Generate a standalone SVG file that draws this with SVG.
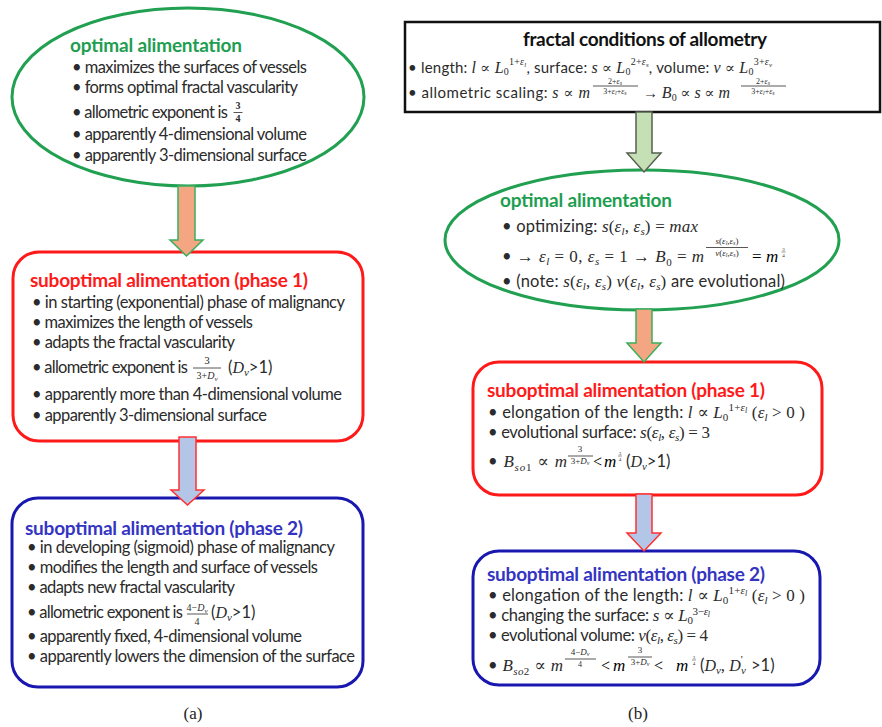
<svg xmlns="http://www.w3.org/2000/svg" width="882" height="727" viewBox="0 0 882 727">
<style>
.b{font-family:Lato,"Open Sans","Liberation Sans",sans-serif;font-size:16.5px;fill:#2b2b2b}
.b2{font-family:Lato,"Open Sans","Liberation Sans",sans-serif;font-size:15px;fill:#2b2b2b}
.tt{font-family:Lato,"Open Sans","Liberation Sans",sans-serif;font-size:19px;font-weight:bold}
.g{fill:#1e9e50}.r{fill:#ff1a1a}.bl{fill:#3434c2}.k{fill:#111}
.mi{font-family:"Liberation Serif","DejaVu Serif",serif;font-style:italic;font-size:17px}
.mr{font-family:"Liberation Serif","DejaVu Serif",serif;font-style:normal;font-size:17px}
.s{font-size:11px}.xs{font-size:8px}.f{font-family:"Liberation Serif","DejaVu Serif",serif;font-size:10px;fill:#2b2b2b}
.fi{font-style:italic}
.fl{stroke:#2b2b2b;stroke-width:0.8}
.cap{font-family:"Liberation Serif",serif;font-size:17px;fill:#222}
.ag{fill:#f4a582;stroke:#3aae5c;stroke-width:1.5}
.ab{fill:#b4c6e7;stroke:#ff3030;stroke-width:1.5}
.ak{fill:#c5e0b4;stroke:#556050;stroke-width:1.5}
</style>
<rect width="882" height="727" fill="#ffffff"/>

<g id="left-optimal">
<ellipse cx="188" cy="97" rx="176" ry="89" fill="none" stroke="#20a050" stroke-width="3"/>
<text class="tt g" x="70" y="52" textLength="172">optimal alimentation</text>
<text class="b" x="72" y="73" textLength="235">• maximizes the surfaces of vessels</text>
<text class="b" x="72" y="93" textLength="226">• forms optimal fractal vascularity</text>
<text class="b" x="72" y="118" textLength="156">• allometric exponent is</text>
<text class="f" x="238" y="109" text-anchor="middle" style="font-size:10px;font-weight:bold">3</text>
<line class="fl" x1="233.5" y1="112.5" x2="242.5" y2="112.5"/>
<text class="f" x="238" y="122" text-anchor="middle" style="font-size:10px;font-weight:bold">4</text>
<text class="b" x="72" y="140" textLength="235">• apparently 4-dimensional volume</text>
<text class="b" x="72" y="161" textLength="235">• apparently 3-dimensional surface</text>
</g>

<g id="left-phase1">
<rect x="13" y="252" width="350" height="189" rx="26" fill="none" stroke="#ff1a1a" stroke-width="3"/>
<text class="tt r" x="30" y="287" textLength="278">suboptimal alimentation (phase 1)</text>
<text class="b" x="32" y="308" textLength="313">• in starting (exponential) phase of malignancy</text>
<text class="b" x="32" y="328" textLength="221">• maximizes the length of vessels</text>
<text class="b" x="32" y="348" textLength="203">• adapts the fractal vascularity</text>
<text class="b" x="32" y="373" textLength="156">• allometric exponent is</text>
<text class="f" x="207" y="364" text-anchor="middle" style="font-size:11px">3</text>
<line class="fl" x1="193" y1="368" x2="221" y2="368"/>
<text class="f" x="207" y="379" text-anchor="middle">3+<tspan class="fi">D</tspan><tspan style="font-size:7px" dy="2" class="fi">v</tspan></text>
<text class="b" x="228" y="373">(<tspan class="mi" style="font-size:16px">D</tspan><tspan class="mi s" dy="3">v</tspan><tspan dy="-3">&gt;1)</tspan></text>
<text class="b" x="32" y="400" textLength="310">• apparently more than 4-dimensional volume</text>
<text class="b" x="32" y="421" textLength="235">• apparently 3-dimensional surface</text>
</g>

<g id="left-phase2">
<rect x="12" y="498" width="351" height="189" rx="26" fill="none" stroke="#1818b0" stroke-width="3"/>
<text class="tt bl" x="25" y="535" textLength="278">suboptimal alimentation (phase 2)</text>
<text class="b" x="27" y="553" textLength="308">• in developing (sigmoid) phase of malignancy</text>
<text class="b" x="27" y="573" textLength="291">• modifies the length and surface of vessels</text>
<text class="b" x="27" y="593" textLength="208">• adapts new fractal vascularity</text>
<text class="b" x="27" y="618" textLength="156">• allometric exponent is</text>
<text class="f" x="197" y="611" text-anchor="middle">4−<tspan class="fi">D</tspan><tspan style="font-size:7px" dy="2" class="fi">v</tspan></text>
<line class="fl" x1="187" y1="614" x2="208" y2="614"/>
<text class="f" x="197" y="625" text-anchor="middle">4</text>
<text class="b" x="211" y="618">(<tspan class="mi" style="font-size:16px">D</tspan><tspan class="mi s" dy="3">v</tspan><tspan dy="-3">&gt;1)</tspan></text>
<text class="b" x="27" y="642" textLength="275">• apparently fixed, 4-dimensional volume</text>
<text class="b" x="27" y="662" textLength="328">• apparently lowers the dimension of the surface</text>
</g>

<g id="right-conditions">
<rect x="405" y="22" width="475" height="90" fill="none" stroke="#111" stroke-width="2.5"/>
<text class="tt k" x="645" y="46" text-anchor="middle" textLength="244">fractal conditions of allometry</text>
<text class="b2" x="408" y="73" textLength="364">• length: <tspan class="mi" style="font-size:16px">l</tspan> <tspan class="mr" style="font-size:15px">∝</tspan> <tspan class="mi" style="font-size:16px">L</tspan><tspan class="mr" style="font-size:10px" dy="2">0</tspan><tspan class="mr" style="font-size:10px" dy="-10">1+</tspan><tspan class="mi" style="font-size:10px">ε</tspan><tspan class="mi" style="font-size:7px" dy="2">l</tspan><tspan dy="6">, surface:  </tspan><tspan class="mi" style="font-size:16px">s</tspan> <tspan class="mr" style="font-size:15px">∝</tspan> <tspan class="mi" style="font-size:16px">L</tspan><tspan class="mr" style="font-size:10px" dy="2">0</tspan><tspan class="mr" style="font-size:10px" dy="-10">2+</tspan><tspan class="mi" style="font-size:10px">ε</tspan><tspan class="mi" style="font-size:7px" dy="2">s</tspan><tspan dy="6">, volume: </tspan><tspan class="mi" style="font-size:16px">v</tspan> <tspan class="mr" style="font-size:15px">∝</tspan> <tspan class="mi" style="font-size:16px">L</tspan><tspan class="mr" style="font-size:10px" dy="2">0</tspan><tspan class="mr" style="font-size:10px" dy="-10">3+</tspan><tspan class="mi" style="font-size:10px">ε</tspan><tspan class="mi" style="font-size:7px" dy="2">v</tspan></text>
<text class="b2" x="408" y="98" textLength="182">• allometric scaling: <tspan class="mi" style="font-size:16px">s</tspan> <tspan class="mr" style="font-size:15px">∝</tspan> <tspan class="mi" style="font-size:16px">m</tspan></text>
<text class="f" x="615" y="83.5" text-anchor="middle" style="font-size:8px">2+<tspan class="fi">ε</tspan><tspan class="fi" style="font-size:6px" dy="1">s</tspan></text>
<line class="fl" x1="593" y1="86" x2="638" y2="86"/>
<text class="f" x="615" y="94" text-anchor="middle" style="font-size:8px">3+<tspan class="fi">ε</tspan><tspan class="fi" style="font-size:6px" dy="1">l</tspan><tspan dy="-1">+</tspan><tspan class="fi">ε</tspan><tspan class="fi" style="font-size:6px" dy="1">s</tspan></text>
<text class="b2" x="643" y="98"><tspan class="mr" style="font-size:15px">→</tspan> <tspan class="mi" style="font-size:16px">B</tspan><tspan class="mr" style="font-size:10px" dy="3">0</tspan><tspan dy="-3"> </tspan><tspan class="mr" style="font-size:15px">∝</tspan> <tspan class="mi" style="font-size:16px">s</tspan> <tspan class="mr" style="font-size:15px">∝</tspan> <tspan class="mi" style="font-size:16px">m</tspan></text>
<text class="f" x="763" y="83.5" text-anchor="middle" style="font-size:8px">2+<tspan class="fi">ε</tspan><tspan class="fi" style="font-size:6px" dy="1">s</tspan></text>
<line class="fl" x1="741" y1="86" x2="786" y2="86"/>
<text class="f" x="763" y="94" text-anchor="middle" style="font-size:8px">3+<tspan class="fi">ε</tspan><tspan class="fi" style="font-size:6px" dy="1">l</tspan><tspan dy="-1">+</tspan><tspan class="fi">ε</tspan><tspan class="fi" style="font-size:6px" dy="1">s</tspan></text>
</g>

<g id="right-optimal">
<ellipse cx="642" cy="240" rx="197" ry="70" fill="none" stroke="#20a050" stroke-width="3"/>
<text class="tt g" x="500" y="207" textLength="172">optimal alimentation</text>
<text class="b" x="502" y="232" textLength="196">• optimizing: <tspan class="mi">s</tspan><tspan class="mr">(</tspan><tspan class="mi">ε</tspan><tspan class="mi s" dy="3">l</tspan><tspan class="mr" dy="-3">, </tspan><tspan class="mi">ε</tspan><tspan class="mi s" dy="3">s</tspan><tspan class="mr" dy="-3">) = </tspan><tspan class="mi">max</tspan></text>
<text class="b" x="502" y="262" textLength="202">• <tspan class="mr">→ </tspan><tspan class="mi">ε</tspan><tspan class="mi s" dy="3">l</tspan><tspan class="mr" dy="-3"> = 0,  </tspan><tspan class="mi">ε</tspan><tspan class="mi s" dy="3">s</tspan><tspan class="mr" dy="-3"> = 1 → </tspan><tspan class="mi">B</tspan><tspan class="mr s" dy="4">0</tspan><tspan class="mr" dy="-4"> = </tspan><tspan class="mi">m</tspan></text>
<text class="f" x="727" y="244" text-anchor="middle" style="font-size:9px"><tspan class="fi">s</tspan>(<tspan class="fi">ε</tspan><tspan class="fi" style="font-size:6px" dy="1">l</tspan><tspan dy="-1">,</tspan><tspan class="fi">ε</tspan><tspan class="fi" style="font-size:6px" dy="1">s</tspan><tspan dy="-1">)</tspan></text>
<line class="fl" x1="706" y1="247.5" x2="748" y2="247.5"/>
<text class="f" x="727" y="256" text-anchor="middle" style="font-size:9px"><tspan class="fi">v</tspan>(<tspan class="fi">ε</tspan><tspan class="fi" style="font-size:6px" dy="1">l</tspan><tspan dy="-1">,</tspan><tspan class="fi">ε</tspan><tspan class="fi" style="font-size:6px" dy="1">s</tspan><tspan dy="-1">)</tspan></text>
<text class="mr" x="752" y="262">=</text>
<text class="mi" x="766" y="262">m</text>
<text class="f" x="783.5" y="250.5" text-anchor="middle" style="font-size:5px">3</text>
<line class="fl" x1="781.5" y1="252" x2="785.5" y2="252" style="stroke-width:0.5"/>
<text class="f" x="783.5" y="257" text-anchor="middle" style="font-size:5px">4</text>
<text class="b" x="502" y="287" textLength="283">• (note: <tspan class="mi">s</tspan><tspan class="mr">(</tspan><tspan class="mi">ε</tspan><tspan class="mi s" dy="3">l</tspan><tspan class="mr" dy="-3">, </tspan><tspan class="mi">ε</tspan><tspan class="mi s" dy="3">s</tspan><tspan class="mr" dy="-3">) </tspan><tspan class="mi">v</tspan><tspan class="mr">(</tspan><tspan class="mi">ε</tspan><tspan class="mi s" dy="3">l</tspan><tspan class="mr" dy="-3">, </tspan><tspan class="mi">ε</tspan><tspan class="mi s" dy="3">s</tspan><tspan class="mr" dy="-3">)</tspan> are evolutional)</text>
</g>

<g id="right-phase1">
<rect x="473" y="362" width="349" height="133" rx="26" fill="none" stroke="#ff1a1a" stroke-width="3"/>
<text class="tt r" x="487" y="397" textLength="278">suboptimal alimentation (phase 1)</text>
<text class="b" x="488" y="418" textLength="317">• elongation of the length: <tspan class="mi">l</tspan> <tspan class="mr">∝</tspan> <tspan class="mi">L</tspan><tspan class="mr s" dy="3">0</tspan><tspan class="mr s" dy="-10">1+</tspan><tspan class="mi s">ε</tspan><tspan class="mi xs" dy="2">l</tspan><tspan class="mr" dy="5"> (</tspan><tspan class="mi">ε</tspan><tspan class="mi s" dy="3">l</tspan><tspan class="mr" dy="-3"> &gt; 0 )</tspan></text>
<text class="b" x="488" y="438" textLength="222">• evolutional surface: <tspan class="mi">s</tspan><tspan class="mr">(</tspan><tspan class="mi">ε</tspan><tspan class="mi s" dy="3">l</tspan><tspan class="mr" dy="-3">, </tspan><tspan class="mi">ε</tspan><tspan class="mi s" dy="3">s</tspan><tspan class="mr" dy="-3">) = 3</tspan></text>
<text class="b" x="488" y="467" textLength="79">• <tspan class="mi">B</tspan><tspan class="mi s" dy="4">so</tspan><tspan class="mr s">1</tspan><tspan class="mr" dy="-4">  ∝ </tspan><tspan class="mi">m</tspan></text>
<text class="f" x="580" y="452" text-anchor="middle" style="font-size:9px">3</text>
<line class="fl" x1="568" y1="456" x2="593" y2="456"/>
<text class="f" x="580" y="464" text-anchor="middle" style="font-size:9px">3+<tspan class="fi">D</tspan><tspan class="fi" style="font-size:6px" dy="1">v</tspan></text>
<text class="mr" x="593" y="467" style="font-size:16px">&lt;</text>
<text class="mi" x="604" y="467">m</text>
<text class="f" x="620" y="454.5" text-anchor="middle" style="font-size:5px">3</text>
<line class="fl" x1="618" y1="456" x2="622" y2="456" style="stroke-width:0.5"/>
<text class="f" x="620" y="461" text-anchor="middle" style="font-size:5px">4</text>
<text class="b" x="626" y="467">(<tspan class="mi" style="font-size:16px">D</tspan><tspan class="mi s" dy="3">v</tspan><tspan dy="-3">&gt;1)</tspan></text>
</g>

<g id="right-phase2">
<rect x="473" y="551" width="347" height="134" rx="26" fill="none" stroke="#1818b0" stroke-width="3"/>
<text class="tt bl" x="487" y="581" textLength="278">suboptimal alimentation (phase 2)</text>
<text class="b" x="488" y="601" textLength="317">• elongation of the length: <tspan class="mi">l</tspan> <tspan class="mr">∝</tspan> <tspan class="mi">L</tspan><tspan class="mr s" dy="3">0</tspan><tspan class="mr s" dy="-10">1+</tspan><tspan class="mi s">ε</tspan><tspan class="mi xs" dy="2">l</tspan><tspan class="mr" dy="5"> (</tspan><tspan class="mi">ε</tspan><tspan class="mi s" dy="3">l</tspan><tspan class="mr" dy="-3"> &gt; 0 )</tspan></text>
<text class="b" x="488" y="621" textLength="222">• changing the surface: <tspan class="mi">s</tspan> <tspan class="mr">∝</tspan> <tspan class="mi">L</tspan><tspan class="mr s" dy="3">0</tspan><tspan class="mr s" dy="-9">3−</tspan><tspan class="mi s">ε</tspan><tspan class="mi xs" dy="2">l</tspan></text>
<text class="b" x="488" y="641" textLength="220">• evolutional volume: <tspan class="mi">v</tspan><tspan class="mr">(</tspan><tspan class="mi">ε</tspan><tspan class="mi s" dy="3">l</tspan><tspan class="mr" dy="-3">, </tspan><tspan class="mi">ε</tspan><tspan class="mi s" dy="3">s</tspan><tspan class="mr" dy="-3">) = 4</tspan></text>
<text class="b" x="488" y="671" textLength="75">• <tspan class="mi">B</tspan><tspan class="mi s" dy="4">so</tspan><tspan class="mr s">2</tspan><tspan class="mr" dy="-4">  ∝ </tspan><tspan class="mi">m</tspan></text>
<text class="f" x="580" y="655" text-anchor="middle" style="font-size:9px">4−<tspan class="fi">D</tspan><tspan class="fi" style="font-size:6px" dy="1">v</tspan></text>
<line class="fl" x1="565" y1="659" x2="596" y2="659"/>
<text class="f" x="580" y="667" text-anchor="middle" style="font-size:8px">4</text>
<text class="mr" x="601" y="671" style="font-size:16px">&lt;</text>
<text class="mi" x="613" y="671">m</text>
<text class="f" x="640" y="653" text-anchor="middle" style="font-size:9px">3</text>
<line class="fl" x1="628" y1="657" x2="652" y2="657"/>
<text class="f" x="640" y="665" text-anchor="middle" style="font-size:9px">3+<tspan class="fi">D</tspan><tspan class="fi" style="font-size:6px" dy="1">v</tspan></text>
<text class="mr" x="654" y="671" style="font-size:16px">&lt;</text>
<text class="mi" x="676" y="671">m</text>
<text class="f" x="694" y="658.5" text-anchor="middle" style="font-size:5px">3</text>
<line class="fl" x1="692" y1="660" x2="696" y2="660" style="stroke-width:0.5"/>
<text class="f" x="694" y="665" text-anchor="middle" style="font-size:5px">4</text>
<text class="b" x="700" y="671">(<tspan class="mi" style="font-size:16px">D</tspan><tspan class="mi s" dy="3">v</tspan><tspan class="mr" dy="-3">, </tspan><tspan class="mi" style="font-size:16px">D</tspan><tspan class="mi s" dy="3">v</tspan><tspan class="mr s" dx="-5" dy="-11">'</tspan><tspan dx="4" dy="8"> &gt;1)</tspan></text>
</g>

<g id="connectors">
<path class="ag" d="M178,186 H195 V240 H203 L186.5,256 L170,240 H178 Z"/>
<path class="ab" d="M179,437 H196 V490 H204 L187.5,505 L171,490 H179 Z"/>
<path class="ak" d="M636,112 H652 V153 H661 L644,172 L627,153 H636 Z"/>
<path class="ag" d="M636,309 H652 V343 H661 L644,362 L627,343 H636 Z"/>
<path class="ab" d="M636,494 H652 V533 H661 L644,551 L627,533 H636 Z"/>
</g>

<text class="cap" x="193" y="719" text-anchor="middle">(a)</text>
<text class="cap" x="638" y="719" text-anchor="middle">(b)</text>
</svg>
